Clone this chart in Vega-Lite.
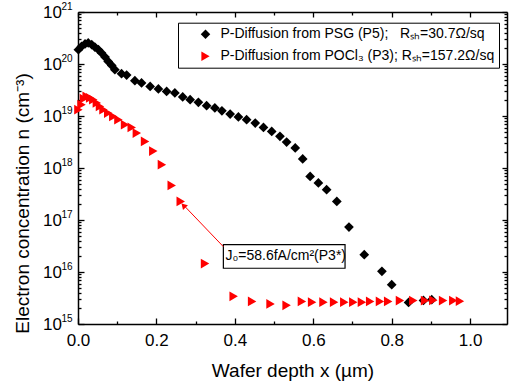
{
  "$schema": "https://vega.github.io/schema/vega-lite/v6.json",
  "width": 429,
  "height": 312,
  "autosize": {"type": "none"},
  "padding": {"left": 78, "top": 12, "right": 2, "bottom": 61},
  "background": "white",
  "config": {
    "view": {"stroke": null},
    "font": "Liberation Sans",
    "axis": {
      "labelFont": "Liberation Sans",
      "titleFont": "Liberation Sans",
      "labelColor": "black",
      "titleColor": "black",
      "titleFontWeight": "normal",
      "domainColor": "black",
      "domainWidth": 1.5,
      "tickColor": "black",
      "tickWidth": 1.3,
      "grid": false
    },
    "legend": {
      "labelFont": "Liberation Sans",
      "labelColor": "black"
    }
  },
  "resolve": {"axis": {"x": "independent", "y": "independent"}},
  "layer": [
    {
      "data": {"values": [
        {"s": "P5", "x": 0.001, "n": 1.88e20},
        {"s": "P5", "x": 0.009, "n": 2.18e20},
        {"s": "P5", "x": 0.018, "n": 2.43e20},
        {"s": "P5", "x": 0.026, "n": 2.54e20},
        {"s": "P5", "x": 0.035, "n": 2.35e20},
        {"s": "P5", "x": 0.043, "n": 2.12e20},
        {"s": "P5", "x": 0.052, "n": 1.88e20},
        {"s": "P5", "x": 0.060, "n": 1.63e20},
        {"s": "P5", "x": 0.069, "n": 1.36e20},
        {"s": "P5", "x": 0.077, "n": 1.12e20},
        {"s": "P5", "x": 0.086, "n": 9.4e19},
        {"s": "P5", "x": 0.094, "n": 7.76e19},
        {"s": "P5", "x": 0.111, "n": 6.5e19},
        {"s": "P5", "x": 0.124, "n": 6.14e19},
        {"s": "P5", "x": 0.145, "n": 4.78e19},
        {"s": "P5", "x": 0.162, "n": 4.32e19},
        {"s": "P5", "x": 0.184, "n": 3.71e19},
        {"s": "P5", "x": 0.205, "n": 3.31e19},
        {"s": "P5", "x": 0.226, "n": 2.97e19},
        {"s": "P5", "x": 0.247, "n": 2.77e19},
        {"s": "P5", "x": 0.267, "n": 2.32e19},
        {"s": "P5", "x": 0.286, "n": 2.06e19},
        {"s": "P5", "x": 0.307, "n": 1.83e19},
        {"s": "P5", "x": 0.328, "n": 1.58e19},
        {"s": "P5", "x": 0.349, "n": 1.43e19},
        {"s": "P5", "x": 0.367, "n": 1.26e19},
        {"s": "P5", "x": 0.388, "n": 1.09e19},
        {"s": "P5", "x": 0.409, "n": 9.57e18},
        {"s": "P5", "x": 0.430, "n": 8.49e18},
        {"s": "P5", "x": 0.452, "n": 7.33e18},
        {"s": "P5", "x": 0.473, "n": 6.04e18},
        {"s": "P5", "x": 0.494, "n": 5.06e18},
        {"s": "P5", "x": 0.515, "n": 4.06e18},
        {"s": "P5", "x": 0.532, "n": 3.16e18},
        {"s": "P5", "x": 0.554, "n": 2.43e18},
        {"s": "P5", "x": 0.573, "n": 1.49e18},
        {"s": "P5", "x": 0.592, "n": 6.89e17},
        {"s": "P5", "x": 0.613, "n": 5.15e17},
        {"s": "P5", "x": 0.634, "n": 3.83e17},
        {"s": "P5", "x": 0.660, "n": 2.28e17},
        {"s": "P5", "x": 0.691, "n": 7.33e16},
        {"s": "P5", "x": 0.730, "n": 2.15e16},
        {"s": "P5", "x": 0.775, "n": 1.03e16},
        {"s": "P5", "x": 0.800, "n": 5.7e15},
        {"s": "P5", "x": 0.843, "n": 2.6e15},
        {"s": "P5", "x": 0.881, "n": 2.84e15},
        {"s": "P5", "x": 0.902, "n": 2.93e15},
        {"s": "P3", "x": 0.001, "n": 1.32e19},
        {"s": "P3", "x": 0.009, "n": 1.65e19},
        {"s": "P3", "x": 0.015, "n": 2.15e19},
        {"s": "P3", "x": 0.022, "n": 2.38e19},
        {"s": "P3", "x": 0.031, "n": 2.22e19},
        {"s": "P3", "x": 0.039, "n": 2.06e19},
        {"s": "P3", "x": 0.048, "n": 1.78e19},
        {"s": "P3", "x": 0.056, "n": 1.53e19},
        {"s": "P3", "x": 0.065, "n": 1.32e19},
        {"s": "P3", "x": 0.077, "n": 1.14e19},
        {"s": "P3", "x": 0.090, "n": 9.8e18},
        {"s": "P3", "x": 0.103, "n": 8.5e18},
        {"s": "P3", "x": 0.120, "n": 6.8e18},
        {"s": "P3", "x": 0.137, "n": 6.04e18},
        {"s": "P3", "x": 0.150, "n": 4.71e18},
        {"s": "P3", "x": 0.171, "n": 3.25e18},
        {"s": "P3", "x": 0.192, "n": 2.12e18},
        {"s": "P3", "x": 0.214, "n": 1.16e18},
        {"s": "P3", "x": 0.239, "n": 4.62e17},
        {"s": "P3", "x": 0.262, "n": 2.28e17},
        {"s": "P3", "x": 0.324, "n": 1.45e16},
        {"s": "P3", "x": 0.397, "n": 3.4e15},
        {"s": "P3", "x": 0.444, "n": 2.72e15},
        {"s": "P3", "x": 0.491, "n": 2.43e15},
        {"s": "P3", "x": 0.532, "n": 2.29e15},
        {"s": "P3", "x": 0.571, "n": 2.72e15},
        {"s": "P3", "x": 0.597, "n": 2.63e15},
        {"s": "P3", "x": 0.626, "n": 2.63e15},
        {"s": "P3", "x": 0.653, "n": 2.63e15},
        {"s": "P3", "x": 0.679, "n": 2.63e15},
        {"s": "P3", "x": 0.702, "n": 2.63e15},
        {"s": "P3", "x": 0.724, "n": 2.63e15},
        {"s": "P3", "x": 0.745, "n": 2.72e15},
        {"s": "P3", "x": 0.770, "n": 2.72e15},
        {"s": "P3", "x": 0.791, "n": 2.72e15},
        {"s": "P3", "x": 0.821, "n": 2.82e15},
        {"s": "P3", "x": 0.855, "n": 2.82e15},
        {"s": "P3", "x": 0.885, "n": 2.82e15},
        {"s": "P3", "x": 0.906, "n": 2.85e15},
        {"s": "P3", "x": 0.931, "n": 2.82e15},
        {"s": "P3", "x": 0.957, "n": 2.82e15},
        {"s": "P3", "x": 0.974, "n": 2.75e15}
      ]},
      "mark": {"type": "point", "filled": true, "opacity": 1, "size": 95},
      "encoding": {
        "x": {"field": "x", "type": "quantitative",
          "scale": {"domain": [0, 1.094], "nice": false, "zero": false},
          "axis": {"orient": "bottom", "values": [0, 0.2, 0.4, 0.6, 0.8, 1.0], "format": ".1f",
            "tickSize": -6, "labelFontSize": 17, "labelPadding": 14, "labelFlush": false,
            "title": "Wafer depth x (µm)", "titleFontSize": 19, "titleBaseline": "alphabetic", "titleY": 52, "titleX": 214.5}},
        "y": {"field": "n", "type": "quantitative",
          "scale": {"type": "log", "domain": [1e15, 1e21], "nice": false},
          "axis": {"orient": "left", "values": [1e15, 1e16, 1e17, 1e18, 1e19, 1e20, 1e21], "labelExpr": "'10'",
            "tickSize": -6, "labelFontSize": 17, "labelPadding": 22.5, "labelBaseline": "middle", "labelFlush": false,
            "title": "Electron concentration n (cm⁻³)", "titleFontSize": 19, "titleAngle": 270, "titleAlign": "center",
            "titleBaseline": "alphabetic", "titleX": -50, "titleY": 191}},
        "color": {"field": "s", "type": "nominal",
          "scale": {"domain": ["P5", "P3"], "range": ["#000000", "#ff0000"]},
          "legend": {"orient": "none", "legendX": 100, "legendY": 10.7, "title": null,
            "labelExpr": "datum.value == 'P5' ? 'P-Diffusion from PSG (P5);\u00a0\u00a0\u00a0Rₛₕ=30.7Ω/sq' : 'P-Diffusion from POCl₃ (P3); Rₛₕ=157.2Ω/sq'",
            "labelFontSize": 14, "labelLimit": 400, "symbolSize": 90, "symbolOffset": 16, "labelOffset": 8,
            "padding": 4.5, "rowPadding": 8, "strokeColor": "black", "fillColor": "white", "symbolStrokeWidth": 0,
            "symbolOpacity": 1}},
        "shape": {"field": "s", "type": "nominal",
          "scale": {"domain": ["P5", "P3"], "range": ["diamond", "triangle-right"]}}
      }
    },
    {
      "data": {"values": [{"x": 0.3707, "x2": 0.681, "y": 3.35e16, "y2": 1.18e16}]},
      "mark": {"type": "rect", "fill": "white", "stroke": "black", "strokeWidth": 1.2},
      "encoding": {
        "x": {"field": "x", "type": "quantitative",
          "axis": {"orient": "bottom", "values": [0.1, 0.3, 0.5, 0.7, 0.9], "labels": false, "tickSize": -3, "domain": false, "title": null}},
        "x2": {"field": "x2"},
        "y": {"field": "y", "type": "quantitative",
          "axis": {"orient": "left", "values": [2e15,3e15,4e15,5e15,6e15,7e15,8e15,9e15,2e16,3e16,4e16,5e16,6e16,7e16,8e16,9e16,2e17,3e17,4e17,5e17,6e17,7e17,8e17,9e17,2e18,3e18,4e18,5e18,6e18,7e18,8e18,9e18,2e19,3e19,4e19,5e19,6e19,7e19,8e19,9e19,2e20,3e20,4e20,5e20,6e20,7e20,8e20,9e20],
            "labels": false, "tickSize": -3, "domain": false, "title": null}},
        "y2": {"field": "y2"}
      }
    },
    {
      "data": {"values": [{"x": 0.376, "y": 2.0e16, "t": "J₀=58.6fA/cm²(P3*)"}]},
      "mark": {"type": "text", "align": "left", "baseline": "middle", "fontSize": 14, "font": "Liberation Sans", "color": "black"},
      "encoding": {
        "x": {"field": "x", "type": "quantitative",
          "axis": {"orient": "top", "values": [0, 0.2, 0.4, 0.6, 0.8, 1.0], "labels": false, "tickSize": -5, "title": null}},
        "y": {"field": "y", "type": "quantitative",
          "axis": {"orient": "right", "values": [1e15, 1e16, 1e17, 1e18, 1e19, 1e20, 1e21], "labels": false, "tickSize": -5, "title": null}},
        "text": {"field": "t"}
      }
    },
    {
      "data": {"values": [{"x": 0.3707, "y": 3.07e16}, {"x": 0.266, "y": 2.05e17}]},
      "mark": {"type": "line", "color": "#ff0000", "strokeWidth": 1},
      "encoding": {
        "x": {"field": "x", "type": "quantitative",
          "axis": {"orient": "top", "values": [0.1, 0.3, 0.5, 0.7, 0.9], "labels": false, "tickSize": -3, "domain": false, "title": null}},
        "y": {"field": "y", "type": "quantitative",
          "axis": {"orient": "right", "values": [2e15,3e15,4e15,5e15,6e15,7e15,8e15,9e15,2e16,3e16,4e16,5e16,6e16,7e16,8e16,9e16,2e17,3e17,4e17,5e17,6e17,7e17,8e17,9e17,2e18,3e18,4e18,5e18,6e18,7e18,8e18,9e18,2e19,3e19,4e19,5e19,6e19,7e19,8e19,9e19,2e20,3e20,4e20,5e20,6e20,7e20,8e20,9e20],
            "labels": false, "tickSize": -3, "domain": false, "title": null}}
      }
    },
    {
      "data": {"values": [{"x": 0.269, "y": 1.9e17}]},
      "mark": {"type": "point", "shape": "triangle-up", "filled": true, "color": "#ff0000", "opacity": 1, "size": 45, "angle": 317},
      "encoding": {
        "x": {"field": "x", "type": "quantitative", "axis": null},
        "y": {"field": "y", "type": "quantitative",
          "axis": {"orient": "left", "values": [1e15, 1e16, 1e17, 1e18, 1e19, 1e20, 1e21],
            "labelExpr": "datum.value > 5e20 ? '21' : datum.value > 5e19 ? '20' : datum.value > 5e18 ? '19' : datum.value > 5e17 ? '18' : datum.value > 5e16 ? '17' : datum.value > 5e15 ? '16' : '15'",
            "ticks": false, "domain": false, "labelFontSize": 10, "labelPadding": 6, "labelOffset": -6, "labelBaseline": "middle", "labelFlush": false, "title": null}}
      }
    }
  ]
}
